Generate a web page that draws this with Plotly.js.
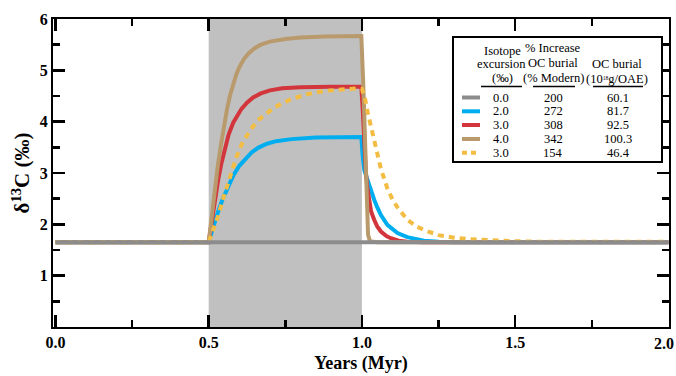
<!DOCTYPE html>
<html>
<head>
<meta charset="utf-8">
<script src="https://cdn.plot.ly/plotly-3.0.1.min.js"></script>
<style>html,body{margin:0;padding:0;background:#fff;}#chart{width:676px;height:376px;}</style>
</head>
<body>
<div id="chart"></div>
<script>
// ---- data ----
const grayX = [0, 0.5, 1.0, 1.5, 2.0];
const grayY = [1.65, 1.65, 1.65, 1.65, 1.65];

const blueX = [0, 0.5, 0.51, 0.52, 0.531, 0.545, 0.56, 0.58, 0.6, 0.62, 0.64, 0.661, 0.69, 0.72, 0.77, 0.85, 0.998, 1.003, 1.008, 1.018, 1.029, 1.040, 1.051, 1.062, 1.083, 1.100, 1.116, 1.148, 1.175, 1.202, 1.25, 1.3, 2.0];
const blueY = [1.65, 1.65, 1.85, 2.05, 2.25, 2.48, 2.70, 2.95, 3.14, 3.28, 3.40, 3.49, 3.57, 3.62, 3.66, 3.69, 3.70, 3.30, 3.05, 2.87, 2.66, 2.48, 2.32, 2.18, 1.99, 1.90, 1.83, 1.75, 1.71, 1.68, 1.66, 1.65, 1.65];

const redX = [0, 0.5, 0.51, 0.52, 0.531, 0.542, 0.553, 0.565, 0.58, 0.595, 0.607, 0.625, 0.645, 0.67, 0.7, 0.74, 0.8, 0.9, 0.998, 1.003, 1.008, 1.013, 1.018, 1.024, 1.030, 1.040, 1.050, 1.062, 1.080, 1.094, 1.120, 1.148, 1.2, 2.0];
const redY = [1.65, 1.65, 2.05, 2.50, 2.87, 3.20, 3.50, 3.75, 3.98, 4.14, 4.25, 4.37, 4.47, 4.55, 4.61, 4.65, 4.67, 4.68, 4.68, 4.20, 3.40, 3.00, 2.70, 2.42, 2.25, 2.09, 1.96, 1.86, 1.77, 1.73, 1.68, 1.66, 1.65, 1.65];

const tanX = [0, 0.5, 0.51, 0.52, 0.53, 0.54, 0.55, 0.56, 0.57, 0.58, 0.59, 0.6, 0.615, 0.63, 0.65, 0.67, 0.7, 0.75, 0.8, 0.88, 0.998, 1.004, 1.010, 1.015, 1.020, 1.026, 1.05, 2.0];
const tanY = [1.65, 1.65, 2.15, 2.70, 3.15, 3.55, 3.92, 4.25, 4.52, 4.74, 4.92, 5.06, 5.22, 5.33, 5.43, 5.50, 5.56, 5.61, 5.64, 5.66, 5.67, 4.80, 3.40, 2.30, 1.80, 1.67, 1.65, 1.65];

const yellowX = [0, 0.5, 0.515, 0.53, 0.55, 0.57, 0.59, 0.607, 0.635, 0.661, 0.69, 0.715, 0.769, 0.824, 0.878, 0.932, 0.986, 1.0, 1.01, 1.02, 1.03, 1.04, 1.05, 1.062, 1.083, 1.1, 1.116, 1.148, 1.175, 1.202, 1.25, 1.3, 1.35, 1.42, 1.5, 1.6, 2.0];
const yellowY = [1.65, 1.65, 1.90, 2.15, 2.55, 2.95, 3.30, 3.55, 3.83, 4.03, 4.17, 4.28, 4.44, 4.54, 4.60, 4.63, 4.65, 4.64, 4.45, 4.15, 3.88, 3.60, 3.35, 3.08, 2.70, 2.48, 2.33, 2.09, 1.97, 1.89, 1.79, 1.74, 1.71, 1.69, 1.67, 1.66, 1.66];

const oaeStart = 0.5, oaeEnd = 1.0;
const xTickText = ['0.0', '0.5', '1.0', '1.5', '2.0'];

const legendExcursion = ['0.0', '2.0', '3.0', '4.0', '3.0'];
const legendIncrease = ['200', '272', '308', '342', '154'];
const legendBurial = ['60.1', '81.7', '92.5', '100.3', '46.4'];
const seriesColors = ['#8c8c8c', '#00aeef', '#d2353b', '#b99a6d', '#f2bd42'];

// ---- layout constants ----
const W = 676, H = 376;
const M = {l: 53, r: 7, t: 19, b: 49};
const PW = W - M.l - M.r, PH = H - M.t - M.b;
const px = v => (v - M.l) / PW;      // pixel x -> paper
const py = v => (H - M.b - v) / PH;  // pixel y -> paper
const FONT = 'Liberation Serif';
const XR = [-0.008, 2.002], YR = [0, 6];

function tr(x, y, i) {
  return {x: x, y: y, type: 'scatter', mode: 'lines', hoverinfo: 'skip', showlegend: false,
    line: {color: seriesColors[i], width: 4, dash: i === 4 ? '6px,5px' : 'solid'}};
}
const data = [tr(blueX, blueY, 1), tr(redX, redY, 2), tr(tanX, tanY, 3), tr(yellowX, yellowY, 4), tr(grayX, grayY, 0)];

const shapes = [
  {type: 'rect', xref: 'x', yref: 'paper', x0: oaeStart, x1: oaeEnd, y0: 0, y1: 1, fillcolor: '#c0c0c0', line: {width: 0}, layer: 'below'},
  {type: 'rect', xref: 'paper', yref: 'paper', x0: px(453), x1: px(662), y0: py(162), y1: py(37), fillcolor: '#fff', line: {color: '#000', width: 2}, layer: 'above'},
  {type: 'line', xref: 'paper', yref: 'paper', x0: px(481), x1: px(522), y0: py(86.5), y1: py(86.5), line: {color: '#000', width: 1.5}},
  {type: 'line', xref: 'paper', yref: 'paper', x0: px(533), x1: px(575), y0: py(86.5), y1: py(86.5), line: {color: '#000', width: 1.5}},
  {type: 'line', xref: 'paper', yref: 'paper', x0: px(593), x1: px(643), y0: py(86.5), y1: py(86.5), line: {color: '#000', width: 1.5}}
];
const annotations = [];
function ann(text, x, y, size) {
  annotations.push({text: text, xref: 'paper', yref: 'paper', x: px(x), y: py(y), xanchor: 'center', yanchor: 'middle', showarrow: false, font: {family: FONT, size: size || 12.5, color: '#000'}});
}
ann('Isotope', 502, 50.5); ann('excursion', 501, 64); ann('(‰)', 502, 78);
ann('% Increase', 553, 48.5); ann('OC burial', 553, 63.5); ann('(% Modern)', 553, 78);
ann('OC burial', 617, 64); ann('(10<span style="font-size:8px"><sup>18</sup></span>g/OAE)', 617, 78.5);
const rowY = [97.5, 111.3, 125, 139, 152.7];
for (let i = 0; i < 5; i++) {
  ann(legendExcursion[i], 501, rowY[i]);
  ann(legendIncrease[i], 553, rowY[i]);
  ann(legendBurial[i], 618, rowY[i]);
  shapes.push({type: 'line', xref: 'paper', yref: 'paper', x0: px(462), x1: px(480), y0: py(rowY[i]), y1: py(rowY[i]),
    line: {color: seriesColors[i], width: 4, dash: i === 4 ? '5px,4px' : 'solid'}});
}
// last x tick label, nudged left so it stays inside the page (as in the reference)
annotations.push({text: '<b>' + xTickText[4] + '</b>', xref: 'paper', yref: 'paper', x: px(664), y: py(343), xanchor: 'center', yanchor: 'middle', showarrow: false, font: {family: FONT, size: 16, color: '#000'}});

const tickFont = {family: FONT, size: 16, color: '#000', weight: 'bold'};
const minorX = {tickmode: 'linear', tick0: 0, dtick: 0.25, ticks: 'inside', ticklen: 7, tickwidth: 2.5, tickcolor: '#000', showgrid: false};
const minorY = {tickmode: 'linear', tick0: 0, dtick: 0.5, ticks: 'inside', ticklen: 7, tickwidth: 2.5, tickcolor: '#000', showgrid: false};
const layout = {
  width: W, height: H, margin: M, paper_bgcolor: '#fff', plot_bgcolor: '#fff', showlegend: false,
  xaxis: {
    range: XR, tickmode: 'linear', tick0: 0, dtick: 0.5, tickformat: '.1f', minor: minorX,
    labelalias: {'2.0': ' '},
    showline: true, linecolor: '#000', linewidth: 2, mirror: 'allticks', showgrid: false, zeroline: false,
    ticks: 'inside', ticklen: 12, tickwidth: 2.5, tickcolor: '#000', tickfont: tickFont, layer: 'above traces',
    title: {text: '<b>Years (Myr)</b>', font: {family: FONT, size: 18, color: '#000'}, standoff: 6}
  },
  yaxis: {
    range: YR, tickmode: 'linear', tick0: 0, dtick: 1, minor: minorY,
    labelalias: {'0': ' '},
    showline: true, linecolor: '#000', linewidth: 2, mirror: 'allticks', showgrid: false, zeroline: false,
    ticks: 'inside', ticklen: 12, tickwidth: 2.5, tickcolor: '#000', tickfont: tickFont, layer: 'above traces',
    title: {text: '<b>δ<sup>13</sup>C (‰)</b>', font: {family: FONT, size: 21, color: '#000'}, standoff: 4}
  },
  shapes: shapes, annotations: annotations
};
Plotly.newPlot('chart', data, layout, {displayModeBar: false, staticPlot: true});
</script>
</body>
</html>
